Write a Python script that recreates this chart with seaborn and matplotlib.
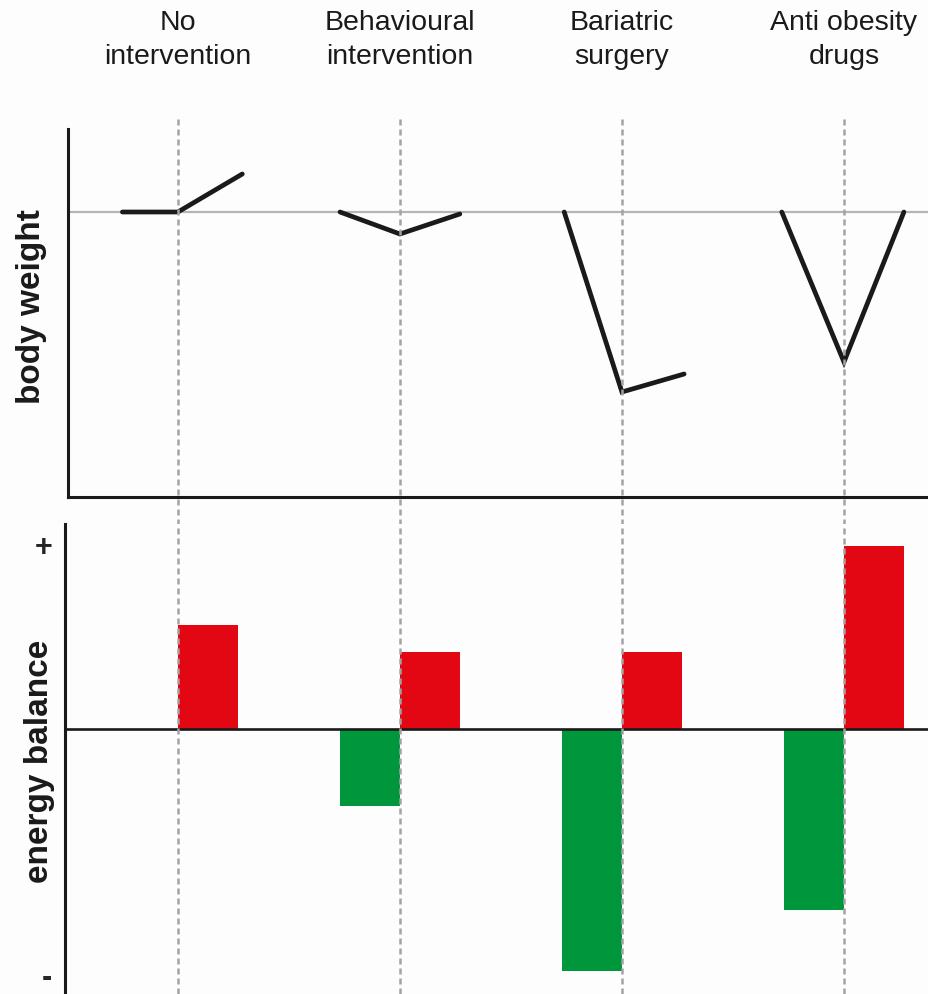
import numpy as np
import pandas as pd
import matplotlib.pyplot as plt
import seaborn as sns
from matplotlib.transforms import blended_transform_factory

# data
interventions = ["No\nintervention", "Behavioural\nintervention",
                 "Bariatric\nsurgery", "Anti obesity\ndrugs"]
positions = [0, 1, 2, 3]

# body weight trajectories, time offsets relative to the intervention moment
weight_t = [[-0.25, 0, 0.29], [-0.27, 0, 0.27], [-0.26, 0, 0.28], [-0.28, 0, 0.27]]
weight_y = [[0, 0, 0.38], [0, -0.22, -0.02], [0, -1.80, -1.62], [0, -1.50, 0]]

# energy balance components
energy_deficit = [0, -0.77, -2.42, -1.81]
energy_gain = [1.04, 0.77, 0.77, 1.83]

sns.set_theme(style="white")
plt.rcParams['font.family'] = ['Liberation Sans', 'DejaVu Sans']

fig = plt.figure(figsize=(9.29, 9.95), dpi=100)
fig.patch.set_facecolor("#fdfdfd")

ax_top = fig.add_axes([68 / 929, 497 / 995, 861 / 929, 368 / 995])
ax_bot = fig.add_axes([65 / 929, 0, 864 / 929, 470 / 995])
for ax in (ax_top, ax_bot):
    ax.set_facecolor("#fdfdfd")

# ---- top panel: body weight
rows = []
for name, p, ts, ys in zip(interventions, positions, weight_t, weight_y):
    for t, y in zip(ts, ys):
        rows.append({"group": name, "x": p + t, "y": y})
weight_df = pd.DataFrame(rows)

ax_top.axhline(0, color="#b5b5b5", lw=1.6, zorder=1)
sns.lineplot(data=weight_df, x="x", y="y", units="group", estimator=None,
             sort=False, color="#1a1a1a", lw=3.4, ax=ax_top, zorder=3,
             solid_capstyle="round", solid_joinstyle="miter")
ax_top.set_xlim(-0.495, 3.383)
ax_top.set_ylim(-2.85, 0.83)
ax_top.set_xticks([])
ax_top.set_yticks([])
ax_top.set_xlabel("")
ax_top.set_ylabel("")
sns.despine(ax=ax_top)
for s in ("left", "bottom"):
    ax_top.spines[s].set_color("#1a1a1a")
    ax_top.spines[s].set_linewidth(2.2)

# ---- bottom panel: energy balance
energy_df = pd.DataFrame({
    "x": positions * 2,
    "value": energy_deficit + energy_gain,
    "component": ["deficit"] * 4 + ["gain"] * 4,
})
sns.barplot(data=energy_df, x="x", y="value", hue="component",
            hue_order=["deficit", "gain"],
            palette={"deficit": "#00963b", "gain": "#e30613"},
            saturation=1, native_scale=True, width=0.54, dodge=True,
            errorbar=None, linewidth=0, legend=False, ax=ax_bot, zorder=2)
ax_bot.axhline(0, color="#1a1a1a", lw=1.9, zorder=3)
ax_bot.set_xlim(-0.509, 3.383)
ax_bot.set_ylim(-2.65, 2.05)
ax_bot.set_xticks([])
ax_bot.set_yticks([1.85, -2.45], ["+", "-"])
ax_bot.tick_params(axis="y", length=0, pad=9, labelsize=22)
for lab in ax_bot.get_yticklabels():
    lab.set_fontweight("bold")
ax_bot.set_xlabel("")
ax_bot.set_ylabel("")
sns.despine(ax=ax_bot, bottom=True)
ax_bot.spines["left"].set_color("#1a1a1a")
ax_bot.spines["left"].set_linewidth(2.2)

# dashed guide lines at the moment of intervention
for p in positions:
    ax_top.axvline(p, ymin=-0.075, ymax=1.027, color="#a3a3a3", lw=1.8,
                   dashes=(2.4, 1.6), clip_on=False, zorder=5)
    ax_bot.axvline(p, ymin=0, ymax=1, color="#a3a3a3", lw=1.8,
                   dashes=(2.4, 1.6), zorder=5)

# column titles
trans = blended_transform_factory(ax_top.transData, fig.transFigure)
for p, name in zip(positions, interventions):
    ax_top.text(p, 1 - 40 / 995, name, transform=trans, ha="center",
                va="center", fontsize=20.5, color="#1a1a1a", linespacing=1.42)

fig.text(32 / 929, 1 - 307 / 995, "body weight", rotation=90, ha="center",
         va="center", fontsize=24, fontweight="bold", color="#1a1a1a")
fig.text(40 / 929, 1 - 761 / 995, "energy balance", rotation=90, ha="center",
         va="center", fontsize=24, fontweight="bold", color="#1a1a1a")

fig.savefig("out.png", dpi=100, facecolor=fig.get_facecolor())
